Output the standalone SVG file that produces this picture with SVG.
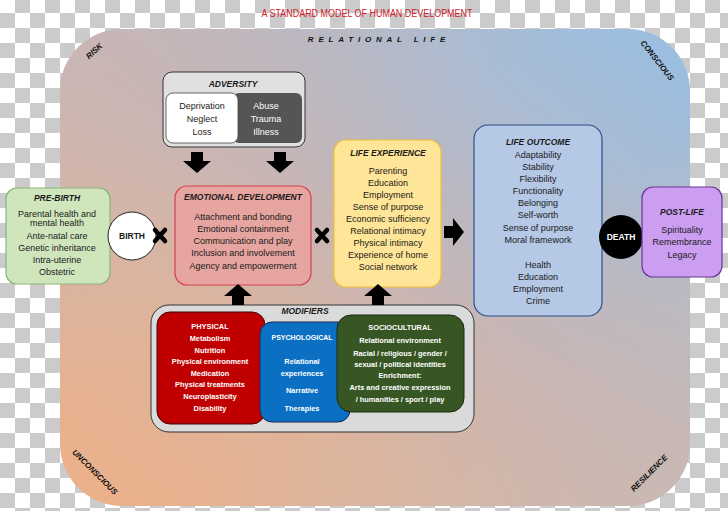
<svg xmlns="http://www.w3.org/2000/svg" width="728" height="511" viewBox="0 0 728 511">
<defs>
<pattern id="checker" patternUnits="userSpaceOnUse" x="0" y="-2" width="30" height="30">
<rect width="30" height="30" fill="#ffffff"/>
<rect x="15" y="0" width="15" height="15" fill="#cbcbcb"/>
<rect x="0" y="15" width="15" height="15" fill="#cbcbcb"/>
</pattern>
<linearGradient id="bg" x1="0" y1="1" x2="1" y2="0">
<stop offset="0" stop-color="#ecb088"/>
<stop offset="0.3" stop-color="#deb49c"/>
<stop offset="0.55" stop-color="#c4b6b8"/>
<stop offset="0.8" stop-color="#a9bcd4"/>
<stop offset="1" stop-color="#98bee2"/>
</linearGradient>
<linearGradient id="bg2" x1="0" y1="0" x2="1" y2="1">
<stop offset="0" stop-color="#c8b6b6" stop-opacity="0.7"/>
<stop offset="0.4" stop-color="#c6b6b6" stop-opacity="0"/>
<stop offset="0.6" stop-color="#ccb8b0" stop-opacity="0"/>
<stop offset="1" stop-color="#c9b9b4" stop-opacity="0.8"/>
</linearGradient>
</defs>
<style>
text{font-family:"Liberation Sans",Arial,sans-serif;font-size:9px;text-anchor:middle;fill:#1a1a1a}
.t{font-weight:bold;font-style:italic;font-size:8.5px}
.w{fill:#ffffff;font-weight:bold;font-size:7.4px}
.corner{font-weight:bold;font-style:italic;font-size:8px;fill:#111}
.arrow{fill:#000}
.x{stroke:#000;stroke-width:4.5;stroke-linecap:round;fill:none}
</style>
<rect width="728" height="511" fill="url(#checker)"/>
<g id="frame">
<rect x="60" y="29" width="630" height="477" rx="62" fill="url(#bg)"/>
<rect x="60" y="29" width="630" height="477" rx="62" fill="url(#bg2)"/>
<text x="367" y="17" style="font-size:10px;fill:#d0202a" textLength="211" lengthAdjust="spacingAndGlyphs">A STANDARD MODEL OF HUMAN DEVELOPMENT</text>
<text x="379" y="42" class="corner" style="letter-spacing:4.8px">RELATIONAL LIFE</text>
<text class="corner" transform="translate(96,53) rotate(-42)">RISK</text>
<text class="corner" transform="translate(655,62) rotate(52)">CONSCIOUS</text>
<text class="corner" transform="translate(93,474) rotate(45)">UNCONSCIOUS</text>
<text class="corner" transform="translate(651,475) rotate(-45)">RESILIENCE</text>
</g>
<g id="adversity">
<rect x="163" y="72" width="142" height="75" rx="9" fill="#e0e0e0" stroke="#333" stroke-width="1"/>
<text x="233" y="87" class="t">ADVERSITY</text>
<rect x="233" y="93" width="69" height="50" rx="6" fill="#555555"/>
<rect x="166" y="93" width="72" height="50" rx="7" fill="#ffffff" stroke="#444" stroke-width="0.8"/>
<text x="202" y="109">Deprivation</text>
<text x="202" y="122">Neglect</text>
<text x="202" y="135">Loss</text>
<text x="266" y="109" style="fill:#fff">Abuse</text>
<text x="266" y="122" style="fill:#fff">Trauma</text>
<text x="266" y="135" style="fill:#fff">Illness</text>
</g>
<g id="prebirth">
<rect x="6" y="188" width="104" height="96" rx="11" fill="#cfe6bd" stroke="#8db47a" stroke-width="1.2"/>
<text x="57" y="201" class="t">PRE-BIRTH</text>
<text x="57" y="217">Parental health and</text>
<text x="57" y="226">mental health</text>
<text x="57" y="239">Ante-natal care</text>
<text x="57" y="251">Genetic inheritance</text>
<text x="57" y="263">Intra-uterine</text>
<text x="57" y="275">Obstetric</text>
</g>
<g id="birth">
<circle cx="132" cy="236" r="24" fill="#fff" stroke="#222" stroke-width="1"/>
<text x="132" y="239" style="font-weight:bold;font-size:8.5px">BIRTH</text>
</g>
<g id="emotional">
<rect x="175" y="186" width="136" height="99" rx="12" fill="#e6a5a0" stroke="#d5404f" stroke-width="1.2"/>
<text x="243" y="200" class="t">EMOTIONAL DEVELOPMENT</text>
<text x="243" y="220">Attachment and bonding</text>
<text x="243" y="232">Emotional containment</text>
<text x="243" y="244">Communication and play</text>
<text x="243" y="256">Inclusion and involvement</text>
<text x="243" y="269">Agency and empowerment</text>
</g>
<g id="lifeexperience">
<rect x="334" y="140" width="107" height="147" rx="12" fill="#ffe597" stroke="#f2c232" stroke-width="1.2"/>
<text x="388" y="156" class="t">LIFE EXPERIENCE</text>
<text x="388" y="174">Parenting</text>
<text x="388" y="186">Education</text>
<text x="388" y="198">Employment</text>
<text x="388" y="210">Sense of purpose</text>
<text x="388" y="222">Economic sufficiency</text>
<text x="388" y="234">Relational intimacy</text>
<text x="388" y="246">Physical intimacy</text>
<text x="388" y="258">Experience of home</text>
<text x="388" y="270">Social network</text>
</g>
<g id="lifeoutcome">
<rect x="474" y="125" width="128" height="191" rx="14" fill="#b5c8e6" stroke="#2e4f86" stroke-width="1.2"/>
<text x="538" y="145" class="t">LIFE OUTCOME</text>
<text x="538" y="158">Adaptability</text>
<text x="538" y="170">Stability</text>
<text x="538" y="182">Flexibility</text>
<text x="538" y="194">Functionality</text>
<text x="538" y="206">Belonging</text>
<text x="538" y="218">Self-worth</text>
<text x="538" y="231">Sense of purpose</text>
<text x="538" y="243">Moral framework</text>
<text x="538" y="268">Health</text>
<text x="538" y="280">Education</text>
<text x="538" y="292">Employment</text>
<text x="538" y="304">Crime</text>
</g>
<g id="death">
<circle cx="621" cy="237" r="22" fill="#000"/>
<text x="621" y="240" style="font-weight:bold;font-size:8.5px;fill:#fff">DEATH</text>
</g>
<g id="postlife">
<rect x="642" y="187" width="80" height="90" rx="11" fill="#cb9ef2" stroke="#6a3596" stroke-width="1.2"/>
<text x="682" y="215" class="t">POST-LIFE</text>
<text x="682" y="233">Spirituality</text>
<text x="682" y="245">Remembrance</text>
<text x="682" y="258">Legacy</text>
</g>
<g id="modifiers">
<rect x="151" y="305" width="323" height="127" rx="18" fill="#dadada" stroke="#333" stroke-width="1"/>
<text x="305" y="314" class="t">MODIFIERS</text>
<rect x="157" y="312" width="108" height="112" rx="13" fill="#c00000" stroke="#3a0a0a" stroke-width="1"/>
<rect x="260" y="322" width="90" height="100" rx="12" fill="#0b6fc4" stroke="#1a2a50" stroke-width="1"/>
<rect x="337" y="315" width="127" height="97" rx="14" fill="#375623" stroke="#1a2a10" stroke-width="1"/>
<text x="210" y="329" class="w">PHYSICAL</text>
<text x="210" y="341" class="w">Metabolism</text>
<text x="210" y="353" class="w">Nutrition</text>
<text x="210" y="364" class="w">Physical environment</text>
<text x="210" y="376" class="w">Medication</text>
<text x="210" y="387" class="w">Physical treatments</text>
<text x="210" y="399" class="w">Neuroplasticity</text>
<text x="210" y="411" class="w">Disability</text>
<text x="302" y="340" class="w" style="font-size:7px">PSYCHOLOGICAL</text>
<text x="302" y="364" class="w">Relational</text>
<text x="302" y="376" class="w">experiences</text>
<text x="302" y="393" class="w">Narrative</text>
<text x="302" y="411" class="w">Therapies</text>
<text x="400" y="330" class="w">SOCIOCULTURAL</text>
<text x="400" y="343" class="w">Relational environment</text>
<text x="400" y="356" class="w">Racial / religious / gender /</text>
<text x="400" y="367" class="w">sexual / political identities</text>
<text x="400" y="378" class="w">Enrichment:</text>
<text x="400" y="390" class="w">Arts and creative expression</text>
<text x="400" y="402" class="w">/ humanities / sport / play</text>
</g>
<g id="connectors">
<path class="arrow" d="M191 152h12v9h8l-14 12l-14-12h8z"/>
<path class="arrow" d="M274 152h12v9h8l-14 12l-14-12h8z"/>
<path class="arrow" d="M232 305v-9h-8l14-12l14 12h-8v9z"/>
<path class="arrow" d="M372 305v-9h-8l14-12l14 12h-8v9z"/>
<path class="arrow" d="M444 226h9v-8l11 14l-11 14v-8h-9z"/>
<path class="x" d="M155 230l10 11M165 230l-10 11"/>
<path class="x" d="M317 230l10 11M327 230l-10 11"/>
</g>
</svg>
